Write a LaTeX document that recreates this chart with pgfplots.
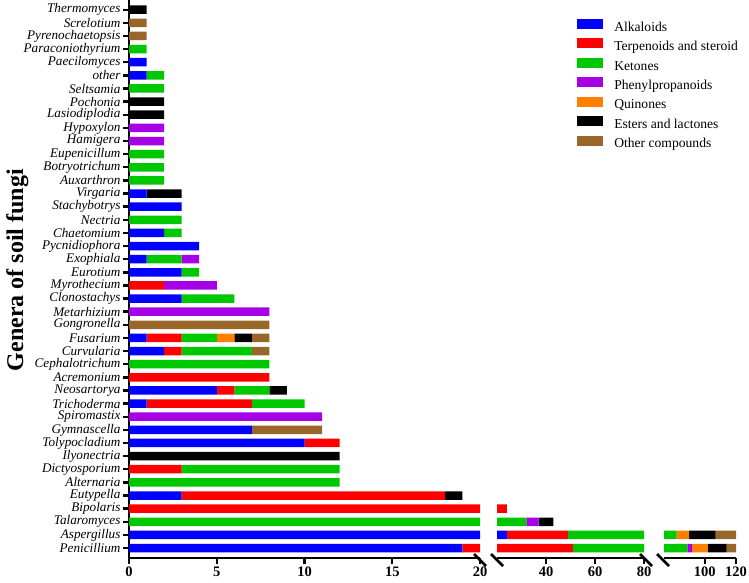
\documentclass[border=0pt]{standalone}
\usepackage{fontspec}
\setmainfont{Liberation Serif}
\usepackage{pgfplots}
\usepackage{pgfplotstable}
\pgfplotsset{compat=1.18}

\definecolor{cAlk}{RGB}{0,0,255}
\definecolor{cTer}{RGB}{255,0,0}
\definecolor{cKet}{RGB}{0,200,0}
\definecolor{cPhe}{RGB}{168,0,230}
\definecolor{cQui}{RGB}{255,128,0}
\definecolor{cEst}{RGB}{0,0,0}
\definecolor{cOth}{RGB}{153,102,41}

% compounds per genus, stacked in legend order (k = 1 is the bottom row)
% z is an empty base so the broken segments do not start their bars at xmin
\pgfplotstableread{
k  name              z al te ke ph qu es ot
1  Penicillium       0 19 32 38  3 10 12  6
2  Aspergillus       0 24 25 33  0  8 17 13
3  Talaromyces       0  0  0 32  5  0  6  0
4  Bipolaris         0  0 24  0  0  0  0  0
5  Eutypella         0  3 15  0  0  0  1  0
6  Alternaria        0  0  0 12  0  0  0  0
7  Dictyosporium     0  0  3  9  0  0  0  0
8  Ilyonectria       0  0  0  0  0  0 12  0
9  Tolypocladium     0 10  2  0  0  0  0  0
10 Gymnascella       0  7  0  0  0  0  0  4
11 Spiromastix       0  0  0  0 11  0  0  0
12 Trichoderma       0  1  6  3  0  0  0  0
13 Neosartorya       0  5  1  2  0  0  1  0
14 Acremonium        0  0  8  0  0  0  0  0
15 Cephalotrichum    0  0  0  8  0  0  0  0
16 Curvularia        0  2  1  4  0  0  0  1
17 Fusarium          0  1  2  2  0  1  1  1
18 Gongronella       0  0  0  0  0  0  0  8
19 Metarhizium       0  0  0  0  8  0  0  0
20 Clonostachys      0  3  0  3  0  0  0  0
21 Myrothecium       0  0  2  0  3  0  0  0
22 Eurotium          0  3  0  1  0  0  0  0
23 Exophiala         0  1  0  2  1  0  0  0
24 Pycnidiophora     0  4  0  0  0  0  0  0
25 Chaetomium        0  2  0  1  0  0  0  0
26 Nectria           0  0  0  3  0  0  0  0
27 Stachybotrys      0  3  0  0  0  0  0  0
28 Virgaria          0  1  0  0  0  0  2  0
29 Auxarthron        0  0  0  2  0  0  0  0
30 Botryotrichum     0  0  0  2  0  0  0  0
31 Eupenicillum      0  0  0  2  0  0  0  0
32 Hamigera          0  0  0  0  2  0  0  0
33 Hypoxylon         0  0  0  0  2  0  0  0
34 Lasiodiplodia     0  0  0  0  0  0  2  0
35 Pochonia          0  0  0  0  0  0  2  0
36 Seltsamia         0  0  0  2  0  0  0  0
37 other             0  1  0  1  0  0  0  0
38 Paecilomyces      0  1  0  0  0  0  0  0
39 Paraconiothyrium  0  0  0  1  0  0  0  0
40 Pyrenochaetopsis  0  0  0  0  0  0  0  1
41 Screlotium        0  0  0  0  0  0  0  1
42 Thermomyces       0  0  0  0  0  0  1  0
}\fungi

\pgfplotsset{
  seg/.style={
    scale only axis, height=558pt, anchor=south west,
    xbar stacked, bar width=8.5pt,
    ymin=0.24, ymax=42.74,
    axis x line*=bottom,
    x axis line style={line width=2.6pt},
    tick align=outside, major tick length=6pt,
    tick style={line width=2.4pt, black},
    /pgf/number format/assume math mode=true,
    xticklabel style={font=\fontsize{14.5}{16}\selectfont\bfseries, yshift=1pt},
    every axis plot/.append style={draw=none},
    legend image code/.code={\path[##1, draw=none] (0pt,-1pt) rectangle (26pt,9pt);},
  },
}

\newcommand\bars{%
  \addplot[fill=none] table[x=z, y=k]{\fungi};
  \addplot[fill=cAlk] table[x=al, y=k]{\fungi};
  \addplot[fill=cTer] table[x=te, y=k]{\fungi};
  \addplot[fill=cKet] table[x=ke, y=k]{\fungi};
  \addplot[fill=cPhe] table[x=ph, y=k]{\fungi};
  \addplot[fill=cQui] table[x=qu, y=k]{\fungi};
  \addplot[fill=cEst] table[x=es, y=k]{\fungi};
  \addplot[fill=cOth] table[x=ot, y=k]{\fungi};
}

\begin{document}
\begin{tikzpicture}
% first segment, 0 to 20, carries the names and the legend
\begin{axis}[seg, at={(129pt,24pt)}, width=351pt,
  xmin=0, xmax=20, xtick={0,5,10,15,20},
  axis y line*=left, y axis line style={line width=2.6pt},
  ytick={1,...,42}, yticklabels from table={\fungi}{name},
  yticklabel style={font=\fontsize{13.2}{13.2}\selectfont\itshape, xshift=1pt},
  ylabel={Genera of soil fungi},
  ylabel style={font=\fontsize{24}{26}\selectfont\bfseries,
    at={(axis description cs:-0.318,0.516)}, anchor=center},
  legend style={at={(axis description cs:1.268,0.970)}, anchor=north west,
    draw=none, fill=none, font=\fontsize{13.6}{16}\selectfont,
    nodes={inner sep=0pt, text height=9.5pt, text depth=3pt},
    column sep=11pt, row sep=4.2pt},
  legend cell align=left,
]
\bars
\legend{, Alkaloids, Terpenoids and steroid, Ketones, Phenylpropanoids,
  Quinones, Esters and lactones, Other compounds}
\end{axis}
% second segment, 20 to 80
\begin{axis}[seg, at={(497pt,24pt)}, width=147pt,
  xmin=20, xmax=80, xtick={40,60,80},
  axis y line=none, ytick=\empty]
\bars
\end{axis}
% third segment, 74 to 120
\begin{axis}[seg, at={(664pt,24pt)}, width=72pt,
  xmin=74, xmax=120, xtick={100,120},
  axis y line=none, ytick=\empty]
\bars
\end{axis}
% break marks
\foreach \bx in {480,497,646,663}
  \draw[line width=2.5pt] (\bx pt-6pt,28pt) -- (\bx pt+6pt,16pt);
\pgfresetboundingbox
\path (0,0) rectangle (749pt,582pt);
\end{tikzpicture}
\end{document}
